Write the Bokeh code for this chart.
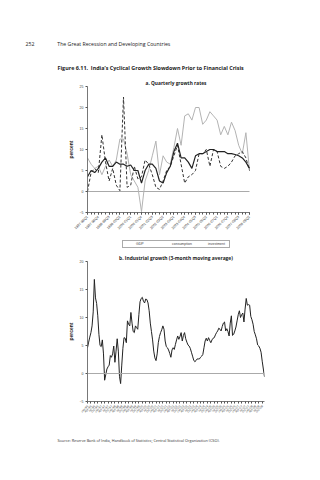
from bokeh.plotting import figure
from bokeh.layouts import column
from bokeh.models import Range1d, FixedTicker, Span, Legend, LegendItem, Title
from bokeh.embed import file_html
from bokeh.resources import INLINE

# ---------------- data: panel a (quarterly growth rates, percent) ----------------
quarter_ticks = ["1997-98Q1", "1997-98Q4", "1998-99Q3", "1999-00Q2", "2000-01Q1",
                 "2000-01Q4", "2001-02Q3", "2002-03Q2", "2003-04Q1", "2003-04Q4",
                 "2004-05Q3", "2005-06Q2", "2006-07Q1", "2006-07Q4", "2007-08Q3",
                 "2008-09Q2"]
gdp = [3.5, 5, 4.5, 5.5, 7, 8, 6, 6, 7, 6.5, 6.5, 6, 6.3, 5, 5, 2,
       5, 6.5, 6.5, 5.5, 2.5, 2, 4.5, 6, 9.5, 11.5, 8, 8, 7, 5.5,
       8.5, 9, 9, 9.5, 10, 10, 9.5, 9.5, 9.5, 9, 9, 8.8, 8.5, 8, 7, 5.5]
consumption = [0, 4.5, 5.5, 4.5, 13.5, 7, 2.5, 5.5, 1.5, 0.2, 22.5, 1, 1.5, 6, 3, 3.5,
               7.5, 6.5, 4, 1, 0.5, 2.5, 5, 6, 8.5, 11, 6.5, 2, 3.5, 4,
               5, 9, 9, 10, 6, 10, 9.5, 6, 5.5, 6, 7, 8.5, 9, 9.5, 8, 5]
investment = [8, 6.5, 5.5, 6, 4, 6, 7.5, 6, 7.5, 12.5, 12.5, 9, 4, 2.5, 1, -4.8,
              2.5, 5, 8.5, 12, 4, 8.5, 7, 6.5, 10.5, 15, 11, 18, 18.5, 17,
              20, 20, 16, 17, 19, 18, 17, 13.5, 15.5, 13.5, 16.5, 14.5, 11, 9, 14, 5]
series_names = ["GDP", "consumption", "investment"]

# ---------------- data: panel b (industrial growth, 3-month moving average) -------
years = ["96", "97", "98", "99", "00", "01", "02", "03", "04", "05", "06", "07", "08"]
months = ["Jan", "Apr", "Jul", "Oct"]
industrial = [4.6, 5.6, 6.5, 7.3, 8.5, 11, 16.8, 13.5, 12.5, 10.3, 7, 5,
              4.8, 6, 3.5, -1.2, -0.2, 0.8, 1.2, 1.5, 3.2, 2.9, 3.5, 4.9,
              2, 4, 6.2, 4, -0.5, -1.8, 1.5, 4.5, 6.4, 6.3, 5.5, 9.4,
              8.8, 8.5, 10.9, 9, 7.5, 7.3, 8.5, 8.2, 7.9, 10.5, 12.8, 13.4,
              13.6, 12.9, 12.6, 13.3, 13.2, 12.6, 11.2, 9, 7.5, 6, 4, 2.8,
              2.3, 3.5, 5.5, 6.6, 7.3, 7.8, 8.5, 7.9, 5.8, 4.8, 4.6, 4.2,
              3.6, 2.9, 4.2, 4.6, 4.3, 5.2, 6, 6.7, 6.1, 6.6, 7.3, 5.8,
              6.8, 7.3, 6.2, 5.6, 5.1, 4.9, 4.5, 3.8, 3.1, 2.4, 2.1, 2.3,
              2.6, 2.6, 2.6, 2.9, 3.1, 3.4, 4.6, 5.8, 6.3, 5.8, 6.4, 5.9,
              5.5, 6, 6.3, 6.4, 6.9, 7.3, 7.6, 8.1, 7.9, 7.6, 8.4, 9,
              9.2, 7.6, 8, 7.5, 6.7, 9, 10.3, 6.8, 7, 7.6, 8.3, 9.4,
              10.5, 11.2, 10, 10.5, 10.8, 9.2, 11.5, 13.4, 12.2, 12.3, 12.2, 10.2,
              9.6, 8.8, 7.5, 6.9, 6.2, 5.1, 4.9, 4.5, 3.8, 2.2, 0.8, -0.6]
month_ticks = [m + "-" + y for y in years for m in months]

HEAD = "Open Sans"
CHART = "Liberation Sans"
NB = "\u00a0"
GDP_STYLE = dict(line_color="#222222", line_width=1.2)
CON_STYLE = dict(line_color="#333333", line_width=1, line_dash="3 2")
INV_STYLE = dict(line_color="#b3b3b3", line_width=1)


def style_axes(p):
    for ax in (p.xaxis[0], p.yaxis[0]):
        ax.axis_line_color = "#555555"
        ax.axis_line_width = 0.8
        ax.major_tick_line_color = "#555555"
        ax.minor_tick_line_color = "#555555"
        ax.major_tick_in = 0
        ax.major_tick_out = 2
        ax.minor_tick_in = 0
        ax.minor_tick_out = 2
        ax.major_label_text_font = CHART
        ax.major_label_text_font_size = "3.5px"
        ax.major_label_text_color = "#444444"
        ax.major_label_standoff = 2
    p.yaxis.axis_label = "percent"
    p.yaxis.axis_label_text_font = CHART
    p.yaxis.axis_label_text_font_size = "5px"
    p.yaxis.axis_label_text_font_style = "bold"
    p.yaxis.axis_label_text_color = "#222222"
    p.yaxis.axis_label_standoff = 3
    p.xgrid.visible = False
    p.ygrid.visible = False
    p.outline_line_color = None


def title(text, size, style="normal", align="center", offset=0, standoff=0, color="#222222"):
    return Title(text=text, text_font=HEAD, text_font_size=size, text_font_style=style,
                 text_color=color, align=align, offset=offset, standoff=standoff)


# ---------------- figure a (with page header) ----------------
n_q = len(gdp)
pa = figure(width=320, height=240, output_backend="svg", toolbar_location=None,
            x_range=Range1d(0, (n_q - 1) * 177 / 162), y_range=Range1d(-5, 25),
            min_border_left=87, min_border_right=56, min_border_top=86,
            min_border_bottom=28, background_fill_color="white",
            border_fill_color="white")
qx = list(range(n_q))
pa.line([qx[0], qx[-1]], [0, 0], line_color="#aaaaaa", line_width=1)
pa.line(qx, investment, **INV_STYLE)
pa.line(qx, consumption, **CON_STYLE)
pa.line(qx, gdp, **GDP_STYLE)
pa.xaxis.ticker = FixedTicker(ticks=list(range(0, n_q, 3)), minor_ticks=qx)
pa.xaxis.major_label_overrides = {i * 3: t for i, t in enumerate(quarter_ticks)}
pa.xaxis.major_label_orientation = 0.785
pa.xaxis.bounds = (0, n_q - 1)
pa.yaxis.ticker = FixedTicker(ticks=[-5, 0, 5, 10, 15, 20, 25], minor_ticks=[])
style_axes(pa)
pa.add_layout(title("a. Quarterly growth rates", "4.8px", "bold", "center", -7, 1), "above")
pa.add_layout(title("Figure 6.11." + NB * 2 + "India\u2019s Cyclical Growth Slowdown Prior to Financial Crisis",
                    "5.4px", "bold", "left", -30, 12), "above")
pa.add_layout(title("252" + NB * 17 + "The Great Recession and Developing Countries",
                    "5.2px", "normal", "left", -62, 16), "above")

# ---------------- legend strip ----------------
pm = figure(width=320, height=12, output_backend="svg", toolbar_location=None,
            x_range=Range1d(0, 1), y_range=Range1d(0, 1),
            x_axis_type=None, y_axis_type=None,
            min_border_left=87, min_border_right=56, min_border_top=0,
            min_border_bottom=0, background_fill_color="white",
            border_fill_color="white")
pm.xgrid.visible = False
pm.ygrid.visible = False
pm.outline_line_color = None
lg = pm.line([], [], **GDP_STYLE)
lc = pm.line([], [], **CON_STYLE)
li = pm.line([], [], **INV_STYLE)
legend = Legend(items=[LegendItem(label=series_names[0], renderers=[lg]),
                       LegendItem(label=series_names[1], renderers=[lc]),
                       LegendItem(label=series_names[2], renderers=[li])],
                orientation="horizontal", location=(35, 4),
                label_text_font=CHART, label_text_font_size="3.5px",
                label_height=4, label_standoff=2, glyph_height=4, glyph_width=10,
                spacing=4, padding=1, margin=0, border_line_color="#555555",
                border_line_width=0.7, background_fill_alpha=1)
pm.add_layout(legend)

# ---------------- figure b ----------------
pb = figure(width=320, height=228, output_backend="svg", toolbar_location=None,
            x_range=Range1d(0, len(industrial) - 1), y_range=Range1d(-5, 20),
            min_border_left=87, min_border_right=56, min_border_top=9,
            min_border_bottom=79, background_fill_color="white",
            border_fill_color="white")
mx = list(range(len(industrial)))
pb.add_layout(Span(location=0, dimension="width", line_color="#aaaaaa", line_width=1))
pb.line(mx, industrial, line_color="#222222", line_width=1)
pb.xaxis.ticker = FixedTicker(ticks=list(range(0, len(industrial), 3)), minor_ticks=[])
pb.xaxis.major_label_overrides = {i * 3: t for i, t in enumerate(month_ticks)}
pb.xaxis.major_label_orientation = 0.785
pb.yaxis.ticker = FixedTicker(ticks=[-5, 0, 5, 10, 15, 20], minor_ticks=[])
style_axes(pb)
pb.xaxis.major_label_text_font_size = "3px"

pb.add_layout(title("b. Industrial growth (3-month moving average)", "4.9px", "bold",
                    "center", -7, 1), "above")
pb.add_layout(title("Source: Reserve Bank of India, Handbook of Statistics; Central Statistical Organization (CSO).",
                    "3.8px", "normal", "left", -30, 36, "#333333"), "below")

page = column(pa, pm, pb, spacing=0)
open("out.html", "w").write(file_html(page, INLINE))
